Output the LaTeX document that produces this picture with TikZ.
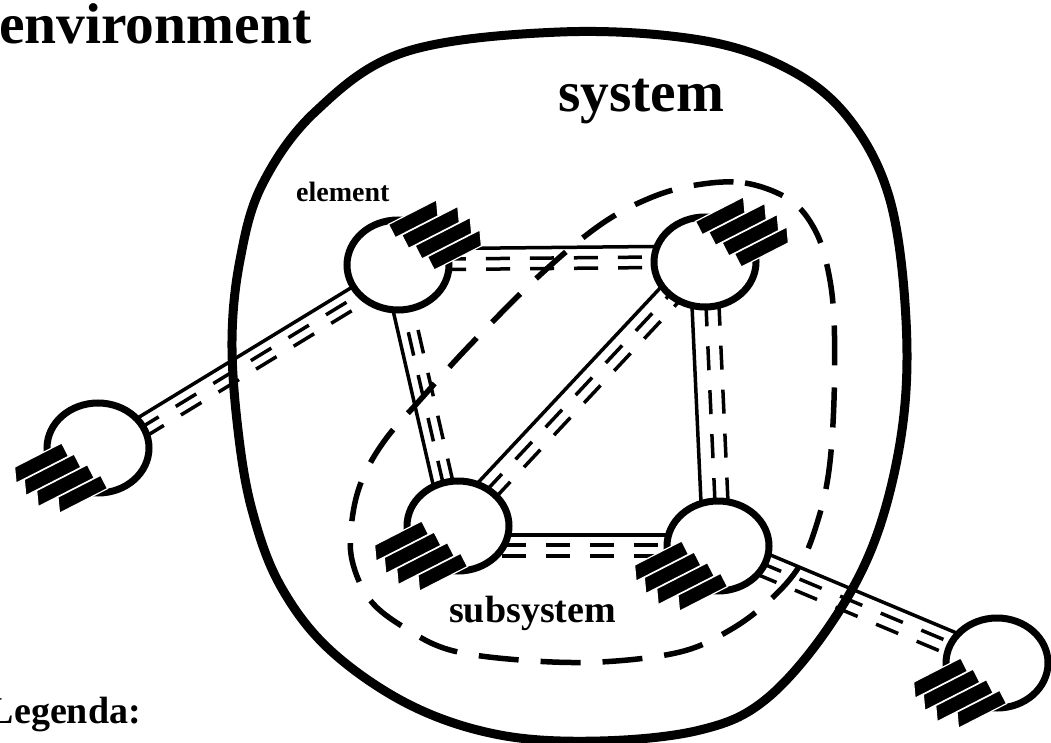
\documentclass[tikz,border=0pt]{standalone}
\usepackage{fontspec}
\setmainfont{Liberation Serif}
\usetikzlibrary{calc,shapes.geometric}
\pgfdeclarelayer{background}
\pgfsetlayers{background,main}
\newcommand\lline[4]{\draw[#1] ($(#2)!#4!90:(#3)$) -- ($(#3)!#4!-90:(#2)$);}
\newcommand\rline[4]{\draw[#1] ($(#2)!#4!-90:(#3)$) -- ($(#3)!#4!90:(#2)$);}
\newcommand\combat[2]{%
  \begin{scope}[shift={(#1.center)},#2]
    \draw[bar] (30,-21) -- (83,-21) -- (89,-6) -- (30,-6) -- cycle;
    \draw[bar] (24,-5.5) -- (80,-5.5) -- (86,9.5) -- (24,9.5) -- cycle;
    \draw[bar] (17,10) -- (74,10) -- (80,25) -- (17,25) -- cycle;
    \draw[bar] (10,25.5) -- (58,25.5) -- (64,40.5) -- (10,40.5) -- cycle;
  \end{scope}}
\begin{document}
\begin{tikzpicture}[x=1pt,y=-1pt,
  elem/.style={ellipse,draw,line width=7pt,fill=white,minimum width=102pt,minimum height=90pt,inner sep=0pt},
  solidlink/.style={line width=3.5pt},
  dashlink/.style={line width=3.5pt,dash pattern=on 24pt off 20pt},
  sysline/.style={line width=9pt},
  subline/.style={line width=5.5pt,dash pattern=on 40pt off 22pt},
  bar/.style={fill=black,draw=white,line width=1.2pt,line join=miter},
  lowframe/.style={x={(-0.89pt,-0.455pt)},y={(0.455pt,-0.89pt)}},
  upframe/.style={x={(0.89pt,0.455pt)},y={(-0.455pt,0.89pt)}},
  lbl/.style={inner sep=0pt,anchor=base west}
]
\useasboundingbox (0,0) rectangle (1051,743);

% elements
\node[elem] (E1) at (398,265) {};
\node[elem] (E2) at (705,262) {};
\node[elem] (E3) at (458,526) {};
\node[elem] (E4) at (718,546) {};
\node[elem] (E5) at (98,448) {};
\node[elem] (E6) at (997,663) {};

\coordinate (k34a) at ([yshift=-9pt]E3.center);
\coordinate (k34b) at ([yshift=11pt]E4.center);

\begin{pgfonlayer}{background}
  % E5 - E1
  \lline{solidlink}{E5.center}{E1.center}{5pt}
  \rline{dashlink}{E5.center}{E1.center}{5pt}
  \rline{dashlink}{E5.center}{E1.center}{15pt}
  % E1 - E2
  \lline{solidlink}{E1.center}{E2.center}{16pt}
  \lline{dashlink}{E1.center}{E2.center}{5.5pt}
  \rline{dashlink}{E1.center}{E2.center}{5pt}
  % E3 - E1
  \lline{solidlink}{E3.center}{E1.center}{15pt}
  \lline{dashlink}{E3.center}{E1.center}{5pt}
  \rline{dashlink}{E3.center}{E1.center}{5pt}
  % E3 - E2
  \lline{solidlink}{E3.center}{E2.center}{15pt}
  \lline{dashlink}{E3.center}{E2.center}{3.5pt}
  \rline{dashlink}{E3.center}{E2.center}{8pt}
  % E4 - E2
  \lline{solidlink}{E4.center}{E2.center}{15pt}
  \lline{dashlink}{E4.center}{E2.center}{1pt}
  \rline{dashlink}{E4.center}{E2.center}{12pt}
  % E3 - E4
  \draw[solidlink] (k34a) -- (k34b);
  \rline{dashlink}{k34a}{k34b}{10pt}
  \rline{dashlink}{k34a}{k34b}{21pt}
  % E4 - E6
  \lline{solidlink}{E4.center}{E6.center}{12pt}
  \lline{dashlink}{E4.center}{E6.center}{1pt}
  \rline{dashlink}{E4.center}{E6.center}{11pt}
\end{pgfonlayer}

% combs
\combat{E1}{upframe}
\combat{E2}{upframe}
\combat{E3}{lowframe}
\combat{E4}{lowframe}
\combat{E5}{lowframe}
\combat{E6}{lowframe}

% subsystem boundary
\draw[subline] plot[smooth cycle, tension=0.6] coordinates {
  (696,185) (745,183) (790,200) (815,230) (828,270) (834,320) (834,400)
  (829,470) (818,520) (800,565) (770,600) (730,630) (680,652) (600,662)
  (520,660) (450,650) (405,628) (370,600) (352,560) (352,520) (362,480)
  (385,440) (420,400) (470,345) (540,275) (600,225) (650,198)};

% system boundary
\draw[sysline] plot[smooth cycle, tension=0.6] coordinates {
  (405,52) (315,112) (262,185) (240,260) (232,340) (238,430) (252,510)
  (280,585) (330,650) (410,705) (500,735) (600,741) (700,730) (765,700)
  (828,628) (875,540) (902,430) (906,320) (890,200) (850,120) (790,70)
  (700,40) (560,32)};

% labels
\node[lbl,font=\fontsize{57.5}{60}\selectfont\bfseries] (tenv) at (-1,44) {environment};
\node[lbl,font=\fontsize{57.5}{60}\selectfont\bfseries] (tsys) at (558,112) {system};
\node[lbl,font=\fontsize{28}{30}\selectfont\bfseries] (tel) at (296,202) {element};
\node[lbl,font=\fontsize{38}{40}\selectfont\bfseries] (tsub) at (449,622) {subsystem};
\node[inner sep=0pt,anchor=base east,font=\fontsize{38}{40}\selectfont\bfseries] (tleg) at (141,723) {Legenda:};
\end{tikzpicture}
\end{document}
